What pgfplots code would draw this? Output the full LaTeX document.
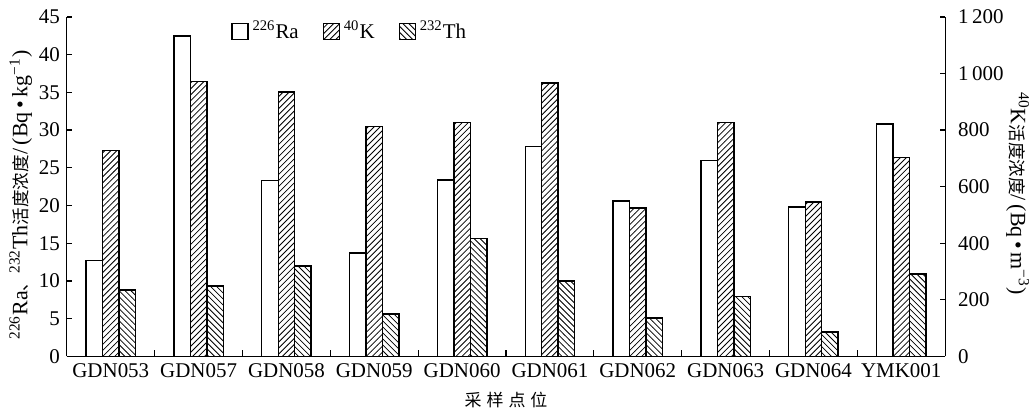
\documentclass[border=0pt]{standalone}
\usepackage{pgfplots}
\pgfplotsset{compat=1.18}
\usepackage{pgfplotstable}
\usetikzlibrary{patterns}
\usepackage{fontspec}
\setmainfont{Liberation Serif}
\newfontfamily\cjk{Noto Sans CJK SC}
\newcommand{\zh}[1]{{\cjk\fontsize{8.8}{10}\selectfont #1}}

\pgfplotstableread{
x Ra Th K
0 12.7 8.8 728
1 42.5 9.3 971
2 23.3 12.0 934
3 13.7 5.6 813
4 23.4 15.6 826
5 27.8 10.0 967
6 20.6 5.1 525
7 26.0 7.9 827
8 19.8 3.2 545
9 30.8 10.9 703
}\data

\pgfplotsset{
  mybase/.style={
    width=440pt, height=170pt, scale only axis,
    xmin=-0.5, xmax=9.5,
    ybar, bar width=8.25pt,
    tick align=inside,
    major tick length=2.5pt,
    every axis line/.style={line width=0.6pt},
    every tick/.style={line width=0.6pt, black},
    /pgf/number format/assume math mode=true,
    tick label style={font=\fontsize{10.5}{12}\selectfont},
    label style={font=\fontsize{11}{13}\selectfont, inner sep=0pt},
  },
  barsty/.style={draw=black, line width=0.7pt},
}

\begin{document}
\begin{tikzpicture}
\useasboundingbox (-33.5pt,-27.5pt) rectangle (482pt,178.5pt);
\begin{axis}[mybase,
  ymin=0, ymax=45, ytick={0,5,...,45},
  axis x line*=bottom, axis y line*=left,
  xtick={0,...,9},
  xticklabels={GDN053,GDN057,GDN058,GDN059,GDN060,GDN061,GDN062,GDN063,GDN064,YMK001},
  major x tick style={draw=none},
  minor xtick={0.5,1.5,...,8.5},
  minor tick length=3pt,
  xlabel={{\cjk\fontsize{8.5}{10}\selectfont 采\hspace{2.5pt}样\hspace{2.5pt}点\hspace{2.5pt}位}},
  xlabel style={at={(axis description cs:0.5,0)}, anchor=center, yshift=-22pt},
  ylabel={\textsuperscript{226}Ra\zh{、}\textsuperscript{232}Th\zh{活度浓度}/\,(Bq\,•\,kg\textsuperscript{−1})},
  ylabel style={at={(axis description cs:-0.039,0.475)}, anchor=south},
  legend style={draw=none, fill=none, at={(0.18,1.013)}, anchor=north west,
    legend columns=3, font=\fontsize{10.5}{12}\selectfont,
    /tikz/every even column/.append style={column sep=10pt}},
  legend image code/.code={\draw[#1, line width=0.6pt] (0pt,-4pt) rectangle (8pt,4pt);},
]
\addplot[barsty, fill=white, bar shift=-8.25pt] table[x=x, y=Ra] {\data};
\addlegendentry{\textsuperscript{226}Ra}
\addlegendimage{barsty, pattern=north east lines}
\addlegendentry{\textsuperscript{40}K}
\addplot[barsty, pattern=north west lines, bar shift=8.25pt] table[x=x, y=Th] {\data};
\addlegendentry{\textsuperscript{232}Th}
\end{axis}
\begin{axis}[mybase,
  ymin=0, ymax=1200, ytick={0,200,...,1200},
  axis x line=none, axis y line*=right,
  /pgf/number format/1000 sep={\,},
  yticklabel style={xshift=3pt},
  ylabel={\textsuperscript{40}K\zh{活度浓度}/\,(Bq\,•\,m\textsuperscript{−3})},
  ylabel style={at={(axis description cs:1.069,0.48)}, anchor=south, rotate=180},
]
\addplot[barsty, pattern=north east lines, bar shift=0pt] table[x=x, y=K] {\data};
\end{axis}
\end{tikzpicture}
\end{document}
